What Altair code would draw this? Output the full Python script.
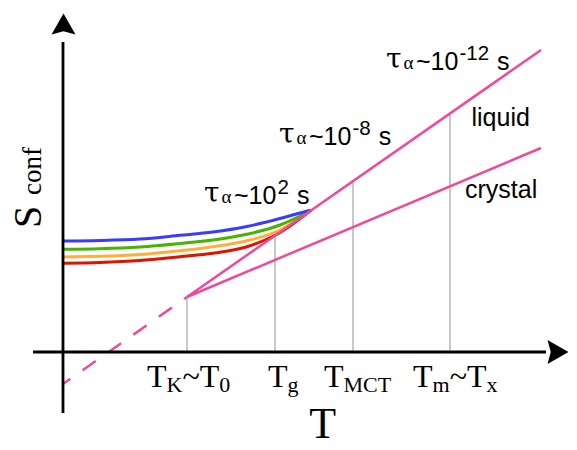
import altair as alt
import pandas as pd

# ---------------- data (schematic units: T across, S_conf up) ----------------
curve_names = ["red", "orange", "green", "blue"]
curve_colors = ["#dc1400", "#ffad3f", "#46b400", "#3b3bff"]
red_T = [0.0, 3.7, 7.7, 11.7, 15.0, 18.4, 20.2, 21.4, 24.8]
red_S = [8.87, 8.95, 9.15, 9.53, 9.87, 10.53, 11.2, 11.78, 14.17]
orange_T = [0.0, 3.7, 7.7, 11.7, 15.0, 18.4, 21.7, 23.2, 24.8]
orange_S = [9.5, 9.57, 9.75, 10.13, 10.53, 11.13, 12.2, 13.1, 14.17]
green_T = [0.0, 3.7, 7.7, 11.7, 15.0, 18.4, 21.7, 23.2, 24.8]
green_S = [10.27, 10.33, 10.5, 10.85, 11.2, 11.77, 12.7, 13.35, 14.17]
blue_T = [0.0, 3.7, 7.7, 11.7, 15.0, 18.4, 21.7, 23.7, 24.8]
blue_S = [11.1, 11.15, 11.3, 11.67, 12.0, 12.55, 13.35, 13.9, 14.17]

liquid_T = [12.4, 47.8]
liquid_S = [5.5, 30.2]
crystal_T = [12.4, 47.8]
crystal_S = [5.5, 20.4]
liquid_ext_T = [0.0, 12.4]
liquid_ext_S = [-3.2, 5.5]

tick_T = [12.4, 21.2, 29.0, 38.7]
tick_top_S = [5.5, 11.6, 17.1, 23.9]
tick_parts = [
    [("T", 0), ("K", 1), ("~T", 0), ("0", 1)],
    [("T", 0), ("g", 1)],
    [("T", 0), ("MCT", 1)],
    [("T", 0), ("m", 1), ("~T", 0), ("x", 1)],
]
tau_exponents = ["2", "-8", "-12"]
tau_T = [14.1, 21.6, 32.3]
tau_S = [14.8, 20.7, 28.2]
phase_names = ["liquid", "crystal"]
phase_T = [40.85, 40.2]
phase_S = [22.63, 15.45]
x_title = "T"
y_title_main, y_title_sub = "S", "conf"

# axis geometry (schematic units)
x_axis_T = [-3.0, 48.3]
y_axis_S = [-6.1, 31.0]
arrow_up = (0.05, 32.8)
arrow_right = (49.5, 0.0)

# ---------------- layout ----------------
W, H = 561, 434
X_DOM = [-5.5, 50.6]
Y_DOM = [-9.0, 34.4]
PXX = W / (X_DOM[1] - X_DOM[0])
PXY = H / (Y_DOM[1] - Y_DOM[0])

xs = alt.Scale(domain=X_DOM, zero=False, nice=False)
ys = alt.Scale(domain=Y_DOM, zero=False, nice=False)


def X(f="T"):
    return alt.X(f"{f}:Q", scale=xs, axis=None)


def Y(f="S"):
    return alt.Y(f"{f}:Q", scale=ys, axis=None)


SERIF_W = {"T": .611, "K": .722, "~": .541, "0": .5, "g": .5, "M": .889,
           "C": .667, "m": .778, "x": .5}
SANS_W = {"-": .333, "~": .584, "s": .5}
for d in "0123456789":
    SANS_W[d] = .556


def width(s, table, size):
    return sum(table.get(c, .55) for c in s) * size


def text_layer(rows, font, size, angle=0, align="left", baseline="alphabetic"):
    df = pd.DataFrame(rows, columns=["T", "S", "text"])
    return alt.Chart(df).mark_text(
        font=font, fontSize=size, align=align, baseline=baseline,
        angle=angle, color="black"
    ).encode(x=X(), y=Y(), text="text:N")


layers = []

# gray drop lines
gray_df = pd.DataFrame({"T": tick_T, "S0": [0.0] * 4, "S1": tick_top_S})
layers.append(alt.Chart(gray_df).mark_rule(color="#c8c8c8", strokeWidth=2).encode(
    x=X(), y=Y("S0"), y2="S1:Q"))

# coloured curves
rows = []
for name, Ts, Ss in zip(curve_names, [red_T, orange_T, green_T, blue_T],
                        [red_S, orange_S, green_S, blue_S]):
    for t, s in zip(Ts, Ss):
        rows.append({"T": t, "S": s, "curve": name})
curves_df = pd.DataFrame(rows)
layers.append(alt.Chart(curves_df).mark_line(interpolate="monotone", strokeWidth=3).encode(
    x=X(), y=Y(),
    color=alt.Color("curve:N", scale=alt.Scale(domain=curve_names, range=curve_colors), legend=None),
    detail="curve:N"))

PINK = "#ef4a9a"
lines_df = pd.DataFrame({
    "T": liquid_T + crystal_T,
    "S": liquid_S + crystal_S,
    "line": ["liquid"] * 2 + ["crystal"] * 2,
})
layers.append(alt.Chart(lines_df).mark_line(color=PINK, strokeWidth=2.5).encode(
    x=X(), y=Y(), detail="line:N"))
ext_df = pd.DataFrame({"T": liquid_ext_T, "S": liquid_ext_S})
layers.append(alt.Chart(ext_df).mark_line(color=PINK, strokeWidth=2.5, strokeDash=[16, 15],
                                          strokeDashOffset=7).encode(x=X(), y=Y()))

# axes
xa = pd.DataFrame({"T": [x_axis_T[0]], "T2": [x_axis_T[1]], "S": [0.0]})
layers.append(alt.Chart(xa).mark_rule(color="black", strokeWidth=2.8).encode(
    x=X(), x2="T2:Q", y=Y()))
ya = pd.DataFrame({"T": [0.0], "S": [y_axis_S[0]], "S2": [y_axis_S[1]]})
layers.append(alt.Chart(ya).mark_rule(color="black", strokeWidth=2.8).encode(
    x=X(), y=Y(), y2="S2:Q"))
up_df = pd.DataFrame({"T": [arrow_up[0]], "S": [arrow_up[1]]})
layers.append(alt.Chart(up_df).mark_point(
    shape="M0,-0.875L1,0.875L0,0.6L-1,0.875Z", filled=True, size=576,
    color="black", opacity=1, strokeWidth=0).encode(x=X(), y=Y()))
rt_df = pd.DataFrame({"T": [arrow_right[0]], "S": [arrow_right[1]]})
layers.append(alt.Chart(rt_df).mark_point(
    shape="M0.875,0L-0.875,1L-0.6,0L-0.875,-1Z", filled=True, size=576,
    color="black", opacity=1, strokeWidth=0).encode(x=X(), y=Y()))

# tick labels (serif, with subscripts)
TICK_MAIN, TICK_SUB = 32, 22
tick_left_px = [-40, -7, -29, -37]
tick_base_S = -3.47
main_rows, sub_rows = [], []
for t, parts, off in zip(tick_T, tick_parts, tick_left_px):
    cur = off
    for txt, is_sub in parts:
        size = TICK_SUB if is_sub else TICK_MAIN
        pos_T = t + cur / PXX
        if is_sub:
            sub_rows.append((pos_T, tick_base_S - 5 / PXY, txt))
        else:
            main_rows.append((pos_T, tick_base_S, txt))
        cur += width(txt, SERIF_W, size)
layers.append(text_layer(main_rows, "Liberation Serif", TICK_MAIN))
layers.append(text_layer(sub_rows, "Liberation Serif", TICK_SUB))

# tau labels
tau_rows, alpha_rows, ten_rows, exp_rows, s_rows = [], [], [], [], []
MAIN, EXP = 25, 20.5
for t, s, e in zip(tau_T, tau_S, tau_exponents):
    tau_rows.append((t, s + 2.5 / PXY, "τ"))
    alpha_rows.append((t + 17.5 / PXX, s + 1 / PXY, "α"))
    ten_rows.append((t + 30 / PXX, s, "~10"))
    exp_rows.append((t + 73.5 / PXX, s + 10 / PXY, e))
    s_rows.append((t + (73.5 + width(e, SANS_W, EXP) + 8) / PXX, s, "s"))
layers.append(text_layer(tau_rows, "DejaVu Serif", 28))
layers.append(text_layer(alpha_rows, "Liberation Serif", 19))
layers.append(text_layer(ten_rows, "Liberation Sans", MAIN))
layers.append(text_layer(exp_rows, "Liberation Sans", EXP))
layers.append(text_layer(s_rows, "Liberation Sans", MAIN))

# phase labels
layers.append(text_layer(list(zip(phase_T, phase_S, phase_names)), "Liberation Sans", 25))

# axis titles
layers.append(text_layer([(25.97, -8.6, x_title)], "Liberation Serif", 44, align="center"))
layers.append(text_layer([(-2.25, 12.4, y_title_main)], "Liberation Serif", 40, angle=270))
layers.append(text_layer([(-2.2, 15.7, y_title_sub)], "Liberation Serif", 27, angle=270))

chart = alt.layer(*layers).properties(
    width=W, height=H, padding=0,
    autosize=alt.AutoSizeParams(type="none"),
    background="white",
).configure_view(stroke=None)

chart.save("out.html", embed_options={"renderer": "svg", "actions": False})
